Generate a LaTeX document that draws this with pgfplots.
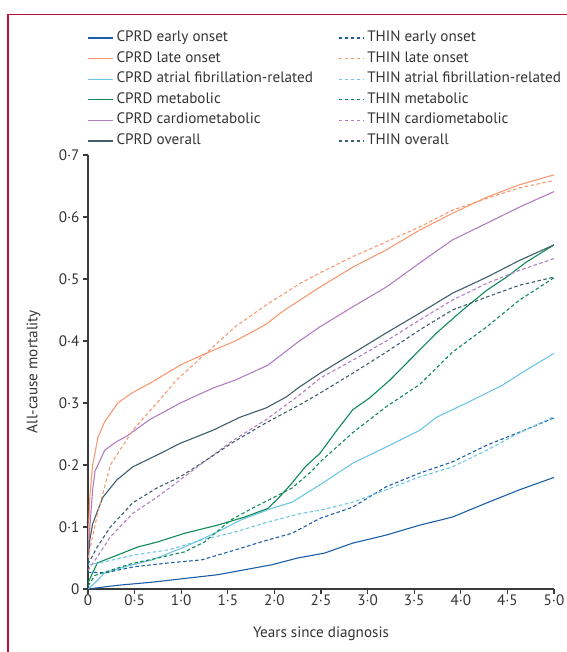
\documentclass[border=0pt]{standalone}
\usepackage{fontspec}
\setmainfont{PT Sans}
\usepackage{pgfplots}
\pgfplotsset{compat=1.18}
\definecolor{cEarly}{HTML}{1B5EA8}
\definecolor{cLate}{HTML}{F79A72}
\definecolor{cAF}{HTML}{6CC6E6}
\definecolor{cMet}{HTML}{0F8A55}
\definecolor{cCardio}{HTML}{B37EC0}
\definecolor{cOverall}{HTML}{3F5E6A}
\definecolor{framecol}{HTML}{B8123E}
\definecolor{axiscol}{HTML}{3A3A3A}
\definecolor{txtcol}{HTML}{333333}
\newcommand{\myfont}{\fontsize{15.2}{18}\selectfont}
\begin{document}
\begin{tikzpicture}
\useasboundingbox (-88bp,-63bp) rectangle (479bp,589bp);
\draw[framecol, line width=1.4bp] (-80bp,-63bp) -- (-80bp,574.5bp) -- (479bp,574.5bp);
\begin{axis}[
  at={(0,0)}, anchor=south west,
  scale only axis, width=466bp, height=434bp,
  xmin=0, xmax=5, ymin=0, ymax=0.7,
  axis lines*=left,
  tick align=outside, major tick length=5bp,
  axis line style={color=axiscol, line width=1.1bp},
  every tick/.style={color=axiscol, line width=1.1bp},
  xtick={0,0.5,1,1.5,2,2.5,3,3.5,4,4.5,5},
  xticklabels={0,0·5,1·0,1·5,2·0,2·5,3·0,3·5,4·0,4·5,5·0},
  ytick={0,0.1,0.2,0.3,0.4,0.5,0.6,0.7},
  yticklabels={0,0·1,0·2,0·3,0·4,0·5,0·6,0·7},
  xticklabel style={font=\myfont, text=txtcol, inner sep=1.5bp, yshift=1.2bp},
  yticklabel style={font=\myfont, text=txtcol},
  xlabel={Years since diagnosis},
  ylabel={All-cause mortality},
  xlabel style={font=\myfont, text=txtcol, at={(axis description cs:0.5,-0.1025)}, anchor=center},
  ylabel style={font=\myfont, text=txtcol, at={(axis description cs:-0.117,0.501)}, anchor=center},
  legend columns=6, transpose legend,
  legend cell align=left,
  legend style={at={(rel axis cs:-0.002,1.2885)}, anchor=north west,
    draw=none, fill=none, font=\myfont, text=txtcol, inner sep=0pt,
    row sep=4.6bp,
    nodes={inner sep=1bp, text height=10.5bp, text depth=3.5bp},
    /tikz/every odd column/.append style={column sep=2bp},
    /tikz/every even column/.append style={column sep=24bp}},
  legend image code/.code={\draw[#1, line width=1.3bp] (0bp,0bp) -- (25bp,0bp);},
  every axis plot/.append style={line width=1.1bp},
  thin/.style={dash pattern=on 3.5bp off 2.5bp},
]
% CPRD early onset
\addplot[cEarly] coordinates {(0,0) (0.32,0.006) (0.69,0.011) (1.04,0.017) (1.39,0.023) (1.68,0.031) (1.97,0.039) (2.25,0.05) (2.54,0.058) (2.84,0.074) (3.2,0.087) (3.56,0.103) (3.91,0.116) (4.28,0.139) (4.63,0.16) (5.0,0.18)};
\addlegendentry{CPRD early onset}
% CPRD late onset
\addplot[cLate] coordinates {(0,0.07) (0.02,0.15) (0.05,0.2) (0.107,0.245) (0.18,0.27) (0.32,0.30) (0.47,0.316) (0.69,0.334) (0.9,0.353) (1.0,0.362) (1.22,0.377) (1.58,0.40) (1.9,0.426) (2.11,0.45) (2.49,0.487) (2.84,0.519) (3.2,0.547) (3.56,0.579) (3.91,0.606) (4.28,0.632) (4.63,0.652) (5.0,0.668)};
\addlegendentry{CPRD late onset}
% CPRD AF-related
\addplot[cAF] coordinates {(0,0) (0.075,0.01) (0.18,0.026) (0.4,0.036) (0.69,0.047) (1.04,0.068) (1.36,0.09) (1.65,0.112) (1.97,0.13) (2.19,0.14) (2.54,0.173) (2.84,0.203) (3.2,0.229) (3.56,0.256) (3.74,0.277) (4.09,0.302) (4.45,0.329) (4.7,0.353) (5.0,0.38)};
\addlegendentry{CPRD atrial fibrillation-related}
% CPRD metabolic
\addplot[cMet] coordinates {(0,0.01) (0.1,0.042) (0.32,0.055) (0.54,0.068) (0.75,0.076) (1.04,0.09) (1.39,0.103) (1.68,0.116) (1.93,0.130) (2.04,0.146) (2.19,0.171) (2.33,0.197) (2.49,0.219) (2.67,0.256) (2.84,0.289) (3.02,0.308) (3.24,0.337) (3.45,0.369) (3.74,0.413) (4.02,0.45) (4.28,0.482) (4.49,0.503) (4.7,0.527) (5.0,0.555)};
\addlegendentry{CPRD metabolic}
% CPRD cardiometabolic
\addplot[cCardio] coordinates {(0,0.05) (0.02,0.10) (0.05,0.16) (0.075,0.19) (0.18,0.224) (0.3,0.237) (0.42,0.247) (0.66,0.273) (0.99,0.30) (1.34,0.324) (1.58,0.337) (1.93,0.361) (2.25,0.398) (2.49,0.423) (2.84,0.455) (3.2,0.487) (3.56,0.526) (3.91,0.563) (4.28,0.59) (4.63,0.616) (5.0,0.641)};
\addlegendentry{CPRD cardiometabolic}
% CPRD overall
\addplot[cOverall] coordinates {(0,0.04) (0.02,0.08) (0.05,0.105) (0.1,0.125) (0.16,0.148) (0.31,0.176) (0.48,0.197) (0.74,0.216) (0.99,0.235) (1.34,0.256) (1.63,0.277) (1.91,0.292) (2.13,0.31) (2.27,0.326) (2.49,0.348) (2.84,0.38) (3.2,0.413) (3.56,0.445) (3.91,0.477) (4.28,0.503) (4.63,0.53) (5.0,0.555)};
\addlegendentry{CPRD overall}
% THIN early onset
\addplot[cEarly, thin] coordinates {(0,0.027) (0.18,0.026) (0.5,0.036) (0.86,0.042) (1.22,0.047) (1.58,0.063) (1.86,0.076) (2.19,0.09) (2.49,0.114) (2.84,0.132) (3.2,0.165) (3.56,0.187) (3.91,0.205) (4.28,0.232) (4.63,0.253) (5.0,0.276)};
\addlegendentry{THIN early onset}
% THIN late onset
\addplot[cLate, thin] coordinates {(0,0.05) (0.1,0.12) (0.24,0.2) (0.48,0.256) (0.74,0.30) (0.95,0.337) (1.22,0.374) (1.58,0.423) (1.93,0.46) (2.29,0.494) (2.49,0.51) (2.84,0.536) (3.2,0.56) (3.56,0.584) (3.91,0.611) (4.28,0.63) (4.63,0.647) (5.0,0.659)};
\addlegendentry{THIN late onset}
% THIN AF-related
\addplot[cAF, thin] coordinates {(0,0.039) (0.18,0.044) (0.5,0.055) (0.86,0.063) (1.22,0.079) (1.58,0.092) (1.93,0.108) (2.29,0.122) (2.49,0.127) (2.84,0.14) (3.2,0.16) (3.56,0.181) (3.91,0.197) (4.28,0.224) (4.63,0.252) (5.0,0.278)};
\addlegendentry{THIN atrial fibrillation-related}
% THIN metabolic
\addplot[cMet, thin] coordinates {(0,0.005) (0.075,0.022) (0.26,0.031) (0.47,0.041) (0.75,0.05) (1.04,0.06) (1.25,0.076) (1.54,0.112) (1.76,0.130) (1.97,0.146) (2.19,0.163) (2.4,0.19) (2.49,0.205) (2.84,0.252) (3.2,0.294) (3.56,0.33) (3.91,0.382) (4.28,0.423) (4.63,0.466) (5.0,0.502)};
\addlegendentry{THIN metabolic}
% THIN cardiometabolic
\addplot[cCardio, thin] coordinates {(0,0.03) (0.1,0.052) (0.24,0.084) (0.48,0.122) (0.74,0.148) (0.99,0.176) (1.27,0.208) (1.56,0.24) (1.91,0.273) (2.27,0.313) (2.49,0.34) (2.84,0.369) (3.2,0.40) (3.56,0.434) (3.91,0.466) (4.28,0.493) (4.63,0.514) (5.0,0.533)};
\addlegendentry{THIN cardiometabolic}
% THIN overall
\addplot[cOverall, thin] coordinates {(0,0.04) (0.1,0.068) (0.24,0.10) (0.48,0.139) (0.74,0.163) (0.99,0.181) (1.27,0.208) (1.56,0.237) (1.91,0.268) (2.27,0.297) (2.49,0.316) (2.84,0.348) (3.2,0.382) (3.56,0.418) (3.91,0.45) (4.28,0.471) (4.63,0.49) (5.0,0.503)};
\addlegendentry{THIN overall}
\end{axis}
\end{tikzpicture}
\end{document}
